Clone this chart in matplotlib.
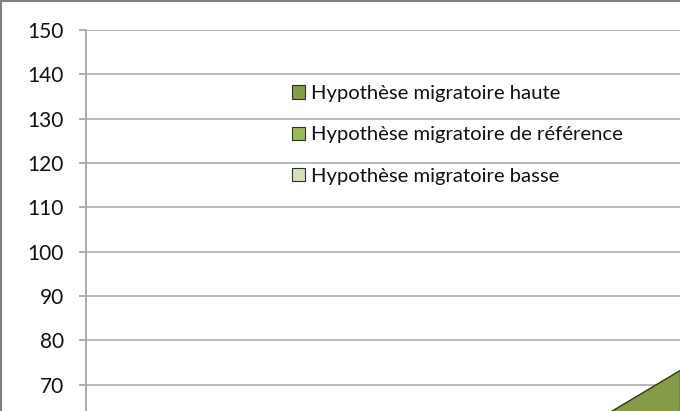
import numpy as np
import matplotlib
matplotlib.use("Agg")
from matplotlib import pyplot as plt
from matplotlib.lines import Line2D

# valeurs (indices)
annees = [2035, 2040, 2045, 2050]
haute = [49.4, 57.4, 65.4, 73.4]
reference = [45.0, 50.0, 55.0, 60.0]
basse = [41.0, 44.0, 47.0, 50.0]
libelles = ["Hypothèse migratoire haute",
            "Hypothèse migratoire de référence",
            "Hypothèse migratoire basse"]
couleurs = ["#849b48", "#9bbb59", "#d3e2b6"]
yticks = [70, 80, 90, 100, 110, 120, 130, 140, 150]

plt.rcParams['font.family'] = ['Lato', 'DejaVu Sans']

W, H = 680, 411
fig = plt.figure(figsize=(W/100, H/100), dpi=100)
ax = fig.add_axes([86/W, 0, 1 - 86/W, (H - 30)/H])

for serie, c, lab in zip([haute, reference, basse], couleurs, libelles):
    ax.fill_between(annees, 0, serie, facecolor=c, edgecolor='#2e3a14',
                    linewidth=1.0, label=lab)

ax.set_xlim(2000, 2050)
ax.set_ylim(64.1, 150)
ax.set_yticks(yticks)
ax.yaxis.grid(True, color='#b3b3b3', linewidth=1.3)
ax.set_axisbelow(True)
ax.set_xticks([])
for s in ['top', 'right', 'bottom']:
    ax.spines[s].set_visible(False)
ax.spines['left'].set_color('#a6a6a6')
ax.spines['left'].set_linewidth(1.3)
ax.tick_params(axis='y', length=5, width=1.3, color='#a6a6a6', pad=11,
               labelsize=15, labelcolor='#111111')

leg = ax.legend(loc='upper left',
                bbox_to_anchor=((292 - 86)/(W - 86), 1 - (85 - 30)/(H - 30)),
                frameon=False, fontsize=14.6, handlelength=0.63, handleheight=0.63,
                handletextpad=0.3, labelspacing=1.2, borderaxespad=0, borderpad=0)
for h in leg.legend_handles:
    h.set_edgecolor('#2e2e2e')
    h.set_linewidth(0.8)
for t in leg.get_texts():
    t.set_color('#111111')

# bord du cadre (haut et gauche)
fig.add_artist(Line2D([0, 1], [1 - 1/H, 1 - 1/H], color='#808080', linewidth=1.5))
fig.add_artist(Line2D([1/W, 1/W], [0, 1], color='#808080', linewidth=1.5))

fig.savefig("out.png", dpi=100)
